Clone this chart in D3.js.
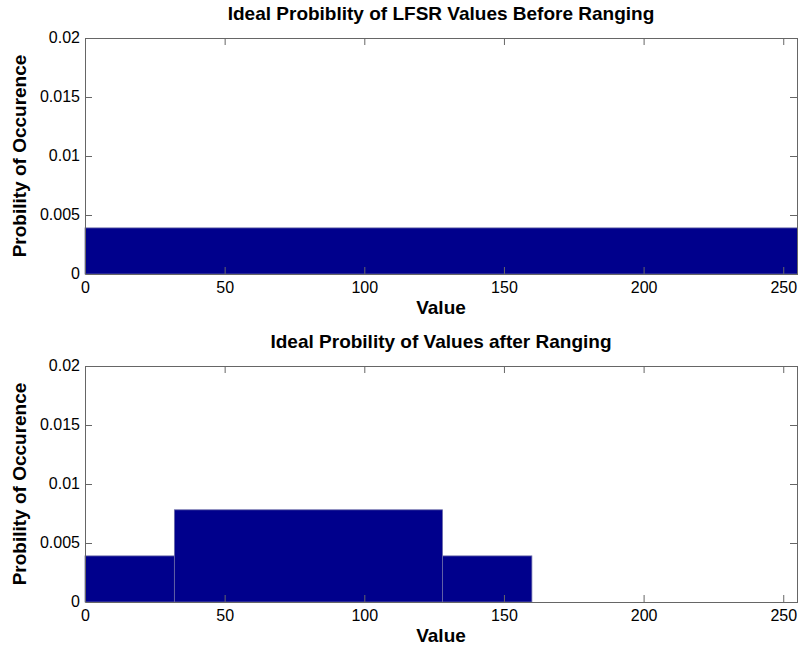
<!DOCTYPE html>
<html>
<head>
<meta charset="utf-8">
<script src="https://cdn.jsdelivr.net/npm/d3@7"></script>
<style>
  body { margin: 0; background: #fff; }
  svg { display: block; font-family: "Liberation Sans", Arial, sans-serif; }
</style>
</head>
<body>
<svg id="SVG_CONTAINER" width="798" height="648"></svg>
<script>
let d3 = window.d3;

const width = 798, height = 648;

// bin edges and probabilities
const beforeEdges = [0, 256];
const beforeValues = [1 / 256];

const afterEdges = [0, 32, 128, 160];
const afterValues = [1 / 256, 2 / 256, 1 / 256];

const xTicks = [0, 50, 100, 150, 200, 250];
const yTicks = [0, 0.005, 0.01, 0.015, 0.02];
const yTickLabels = ["0", "0.005", "0.01", "0.015", "0.02"];

const titles = ["Ideal Probiblity of LFSR Values Before Ranging", "Ideal Probility of Values after Ranging"];
const xLabel = "Value";
const yLabel = "Probility of Occurence";

const LEFT = 85, RIGHT = 800;
const panels = [
    { top: 38, bottom: 274, edges: beforeEdges, values: beforeValues, title: titles[0] },
    { top: 366, bottom: 602, edges: afterEdges, values: afterValues, title: titles[1] }
];

let svg = d3.select("#SVG_CONTAINER");

let xScale = d3.scaleLinear().domain([0, 256]).range([LEFT, RIGHT]);

panels.forEach(function (p) {
    let g = svg.append("g");
    let yScale = d3.scaleLinear().domain([0, 0.02]).range([p.bottom, p.top]);

    let bins = p.values.map((v, i) => ({ x0: p.edges[i], x1: p.edges[i + 1], v: v }));

    // bars
    g.selectAll("rect")
        .data(bins)
        .enter()
        .append("rect")
            .attr("x", d => xScale(d.x0))
            .attr("y", d => yScale(d.v))
            .attr("width", d => xScale(d.x1) - xScale(d.x0))
            .attr("height", d => yScale(0) - yScale(d.v))
            .attr("fill", "#00008c")
            .attr("stroke", "#6a6aa8")
            .attr("stroke-width", 0.8);

    const axisColor = "#666";
    const tickLen = 7;

    // bottom axis (ticks inward)
    let bottomAxis = g.append("g")
        .attr("transform", "translate(0," + p.bottom + ")")
        .call(d3.axisBottom(xScale).tickValues(xTicks).tickSizeInner(-tickLen).tickSizeOuter(0).tickPadding(8));
    // top axis
    let topAxis = g.append("g")
        .attr("transform", "translate(0," + p.top + ")")
        .call(d3.axisTop(xScale).tickValues(xTicks).tickSizeInner(-tickLen).tickSizeOuter(0).tickFormat(""));
    // left axis
    let leftAxis = g.append("g")
        .attr("transform", "translate(" + LEFT + ",0)")
        .call(d3.axisLeft(yScale).tickValues(yTicks).tickSizeInner(-tickLen).tickSizeOuter(0).tickPadding(5)
            .tickFormat((d, i) => yTickLabels[i]));
    // right axis
    let rightAxis = g.append("g")
        .attr("transform", "translate(" + (RIGHT - 3) + ",0)")
        .call(d3.axisRight(yScale).tickValues(yTicks).tickSizeInner(-tickLen).tickSizeOuter(0).tickFormat(""));

    [bottomAxis, topAxis, leftAxis, rightAxis].forEach(function (a) {
        a.select(".domain").attr("stroke", axisColor);
        a.selectAll(".tick line").attr("stroke", axisColor);
        a.selectAll("text").attr("fill", "#000").style("font-size", "16px")
            .style("font-family", "'Liberation Sans', Arial, sans-serif");
    });
    bottomAxis.selectAll(".tick line").filter(d => d === 0).remove();
    leftAxis.selectAll(".tick line").filter(d => d === 0).remove();
    leftAxis.selectAll("text").attr("dy", "0.3em");

    // title
    svg.append("text")
        .attr("x", (LEFT + 797) / 2)
        .attr("y", p.top - 18)
        .attr("text-anchor", "middle")
        .style("font-size", "19px")
        .style("font-weight", "bold")
        .text(p.title);

    // x label
    svg.append("text")
        .attr("x", (LEFT + 797) / 2)
        .attr("y", p.bottom + 40)
        .attr("text-anchor", "middle")
        .style("font-size", "19px")
        .style("font-weight", "bold")
        .text(xLabel);

    // y label
    svg.append("text")
        .attr("transform", "translate(26," + ((p.top + p.bottom) / 2) + ")rotate(-90)")
        .attr("text-anchor", "middle")
        .style("font-size", "19px")
        .style("font-weight", "bold")
        .text(yLabel);
});
</script>
</body>
</html>
